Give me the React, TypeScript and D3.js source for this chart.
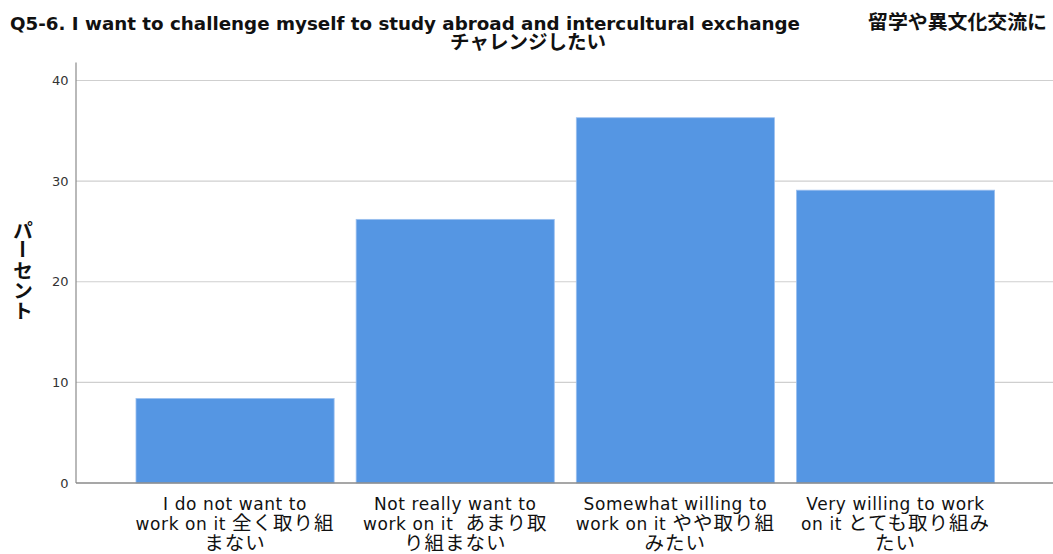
import React from "react";
import * as d3 from "d3";

const categories = ["c1", "c2", "c3", "c4"];
const categoryLabelLines: string[][] = [
  ["I do not want to", "work on it 全く取り組", "まない"],
  ["Not really want to", "work on it  あまり取", "り組まない"],
  ["Somewhat willing to", "work on it やや取り組", "みたい"],
  ["Very willing to work", "on it とても取り組み", "たい"],
];
const percentValues = [8.4, 26.2, 36.3, 29.1];
const yTicks = [0, 10, 20, 30, 40];
const titleLine1En = "Q5-6. I want to challenge myself to study abroad and intercultural exchange";
const titleLine1Ja = "留学や異文化交流に";
const titleLine2Ja = "チャレンジしたい";
const yLabelChars = ["パ", "ー", "セ", "ン", "ト"];

const W = 1053;
const H = 554;
const LATIN = "'DejaVu Sans', 'Noto Sans CJK JP', sans-serif";
const CJK = "'Noto Sans CJK JP', 'DejaVu Sans', sans-serif";

function splitRuns(s: string) {
  const re = /[\u3000-\u9fff\uff00-\uffef]+/g;
  const runs: { text: string; cjk: boolean }[] = [];
  let last = 0;
  let m: RegExpExecArray | null;
  while ((m = re.exec(s)) !== null) {
    if (m.index > last) runs.push({ text: s.slice(last, m.index), cjk: false });
    runs.push({ text: m[0], cjk: true });
    last = m.index + m[0].length;
  }
  if (last < s.length) runs.push({ text: s.slice(last), cjk: false });
  return runs;
}

export default function App() {
  const x = d3
    .scaleBand<string>()
    .domain(categories)
    .range([76, 1054.6])
    .paddingInner(0.1)
    .paddingOuter(0.2725);
  const y = d3.scaleLinear().domain([0, 40]).range([483, 80.5]);
  const axisLeft = 76;
  const axisTop = y(41.8);

  return (
    <svg
      width={W}
      height={H}
      style={{ position: "absolute", left: 0, top: 0, display: "block", background: "#fff" }}
    >
      <rect x={0} y={0} width={W} height={H} fill="#fff" />
      {/* title */}
      <text
        x={10}
        y={29.5}
        fontFamily={LATIN}
        fontWeight="bold"
        fontSize={17}
        fill="#111"
        textLength={790}
        lengthAdjust="spacingAndGlyphs"
      >
        {titleLine1En}
      </text>
      <text
        x={868}
        y={29}
        fontFamily={CJK}
        fontWeight="bold"
        fontSize={19.5}
        fill="#111"
        textLength={179}
        lengthAdjust="spacingAndGlyphs"
      >
        {titleLine1Ja}
      </text>
      <text
        x={528}
        y={48.5}
        textAnchor="middle"
        fontFamily={CJK}
        fontWeight="bold"
        fontSize={19.5}
        fill="#111"
      >
        {titleLine2Ja}
      </text>

      {/* gridlines */}
      {yTicks.slice(1).map((t) => (
        <line key={t} x1={axisLeft} x2={W} y1={y(t)} y2={y(t)} stroke="#cfcfcf" strokeWidth={1.2} />
      ))}

      {/* bars */}
      {categories.map((c, i) => (
        <rect
          key={c}
          x={x(c)!}
          y={y(percentValues[i])}
          width={x.bandwidth()}
          height={y(0) - y(percentValues[i])}
          fill="#5596e3"
          stroke="#9cc0ef"
          strokeWidth={0.8}
        />
      ))}

      {/* axes */}
      <line x1={axisLeft} x2={axisLeft} y1={axisTop} y2={y(0)} stroke="#8a8a8a" strokeWidth={1.2} />
      <line x1={axisLeft} x2={W} y1={y(0)} y2={y(0)} stroke="#8a8a8a" strokeWidth={1.6} />

      {/* y ticks */}
      {yTicks.map((t) => (
        <text
          key={t}
          x={68.5}
          y={y(t)}
          dy="0.36em"
          textAnchor="end"
          fontFamily={LATIN}
          fontSize={13}
          fill="#333"
        >
          {t}
        </text>
      ))}

      {/* y label */}
      {yLabelChars.map((ch, i) => {
        const cy = 229 + i * 20;
        return (
          <text
            key={i}
            x={23}
            y={cy}
            textAnchor="middle"
            dominantBaseline="central"
            fontFamily={CJK}
            fontWeight="bold"
            fontSize={19.5}
            fill="#111"
            transform={ch === "ー" ? `rotate(90, 23, ${cy})` : undefined}
          >
            {ch}
          </text>
        );
      })}

      {/* x labels */}
      {categories.map((c, i) => {
        const cx = x(c)! + x.bandwidth() / 2;
        return categoryLabelLines[i].map((line, j) => (
          <text
            key={c + j}
            x={cx}
            y={509.5 + j * 20}
            textAnchor="middle"
            fill="#111"
            style={{ whiteSpace: "pre" }}
          >
            {splitRuns(line).map((r, k) => (
              <tspan
                key={k}
                fontFamily={r.cjk ? CJK : LATIN}
                fontSize={r.cjk ? 19.5 : 17}
                letterSpacing={r.cjk ? 1 : 0.6}
              >
                {r.text}
              </tspan>
            ))}
          </text>
        ));
      })}
    </svg>
  );
}
